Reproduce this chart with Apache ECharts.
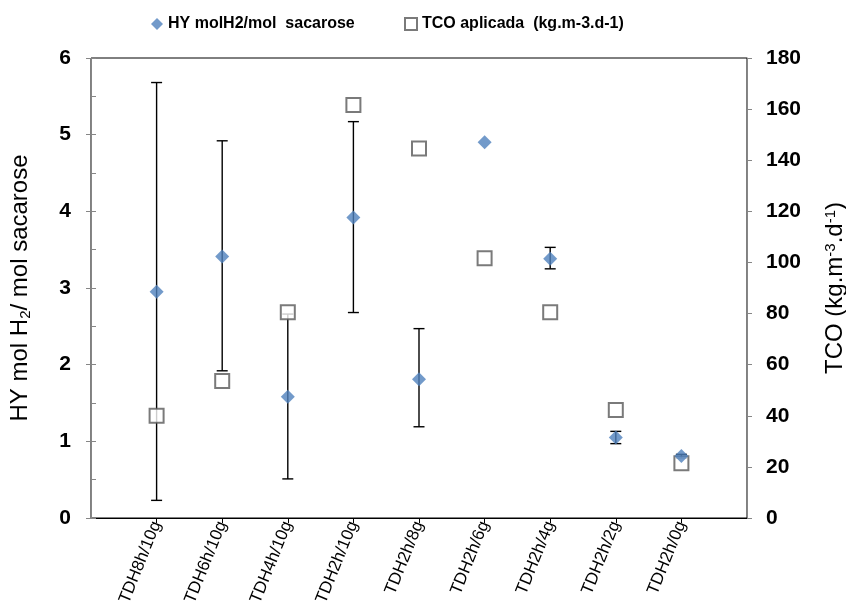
<!DOCTYPE html>
<html><head><meta charset="utf-8">
<script src="https://cdn.jsdelivr.net/npm/echarts@6/dist/echarts.min.js"></script>
<style>html,body{margin:0;padding:0;background:#fff}#c{width:846px;height:614px}</style>
</head><body><div id="c"></div>
<script>
const categories = ['TDH8h/10g','TDH6h/10g','TDH4h/10g','TDH2h/10g','TDH2h/8g','TDH2h/6g','TDH2h/4g','TDH2h/2g','TDH2h/0g'];
const hyValues = [2.95, 3.41, 1.58, 3.92, 1.81, 4.90, 3.38, 1.05, 0.81];
const hyErrLow = [0.23, 1.92, 0.51, 2.68, 1.19, null, 3.25, 0.97, 0.78];
const hyErrHigh = [5.68, 4.92, 2.66, 5.17, 2.47, null, 3.53, 1.13, 0.83];
const tcoValues = [40, 53.6, 80.5, 161.6, 144.6, 101.6, 80.5, 42.3, 21.4];
const leftTicks = [0, 1, 2, 3, 4, 5, 6];
const rightTicks = [0, 20, 40, 60, 80, 100, 120, 140, 160, 180];

const hyName = 'HY molH2/mol  sacarose';
const tcoName = 'TCO aplicada  (kg.m-3.d-1)';
const FONT = 'Liberation Sans, Arial, sans-serif';
const xPos = categories.map((c, i) => i + 1);

const chart = echarts.init(document.getElementById('c'), null, {renderer: 'canvas'});
chart.setOption({
  animation: false,
  backgroundColor: '#fff',
  textStyle: {fontFamily: FONT},
  grid: {left: 91, right: 99, top: 58, bottom: 96, containLabel: false, outerBoundsMode: 'none',
         show: true, borderColor: '#000', borderWidth: 1, backgroundColor: 'transparent'},
  legend: [
    {data: [hyName], left: 146, top: 11, itemWidth: 12, itemHeight: 12, itemGap: 4,
     textStyle: {fontFamily: FONT, fontWeight: 'bold', fontSize: 16, color: '#000'}},
    {data: [tcoName], left: 399, top: 11, itemWidth: 12, itemHeight: 12, itemGap: 4,
     textStyle: {fontFamily: FONT, fontWeight: 'bold', fontSize: 16, color: '#000'}}
  ],
  xAxis: {
    type: 'value', min: 0, max: 10, interval: 1,
    splitLine: {show: false},
    axisLine: {lineStyle: {color: '#000', width: 1}},
    axisTick: {customValues: xPos, length: 5, lineStyle: {color: '#000'}},
    axisLabel: {customValues: xPos, rotate: 68, fontSize: 17, color: '#000', margin: 4, fontFamily: FONT,
      formatter: v => categories[Math.round(v) - 1] || ''}
  },
  yAxis: [
    {type: 'value', min: 0, max: 6, interval: 1, position: 'left',
     name: 'HY mol H{sub|2}/ mol sacarose', nameLocation: 'middle', nameGap: 58, nameRotate: 90,
     nameTextStyle: {fontFamily: FONT, fontSize: 24, color: '#000',
       rich: {sub: {fontSize: 15, verticalAlign: 'bottom', padding: [10, 0, 0, 0], fontFamily: FONT}}},
     splitLine: {show: false},
     axisLine: {show: true, lineStyle: {color: '#868686'}},
     axisTick: {show: true, length: 5, lineStyle: {color: '#868686'}},
     axisLabel: {fontSize: 21, fontWeight: 'bold', color: '#000', margin: 20, fontFamily: FONT}},
    {type: 'value', min: 0, max: 180, interval: 20, position: 'right',
     name: 'TCO (kg.m{sup|-3}.d{sup|-1})', nameLocation: 'middle', nameGap: 76, nameRotate: 90,
     nameTextStyle: {fontFamily: FONT, fontSize: 24, color: '#000',
       rich: {sup: {fontSize: 15, verticalAlign: 'top', padding: [0, 0, 10, 0], fontFamily: FONT}}},
     splitLine: {show: false},
     axisLine: {show: true, lineStyle: {color: '#868686'}},
     axisTick: {show: true, length: 5, lineStyle: {color: '#868686'}},
     axisLabel: {fontSize: 21, fontWeight: 'bold', color: '#000', margin: 19, fontFamily: FONT}},
    {type: 'value', min: 0, max: 6, interval: 0.5, position: 'left',
     splitLine: {show: false}, axisLine: {show: false},
     axisTick: {show: true, inside: true, length: 5, lineStyle: {color: '#868686'}},
     axisLabel: {show: false}}
  ],
  series: [
    {type: 'custom', name: 'errbar', yAxisIndex: 0, z: 2, silent: true,
     data: xPos.map((x, i) => [x, hyErrLow[i], hyErrHigh[i]]).filter(d => d[1] != null),
     renderItem: (params, api) => {
       const lo = api.coord([api.value(0), api.value(1)]);
       const hi = api.coord([api.value(0), api.value(2)]);
       const w = 5.5;
       const st = {stroke: '#000', lineWidth: 1.4};
       return {type: 'group', children: [
         {type: 'line', shape: {x1: hi[0], y1: hi[1], x2: lo[0], y2: lo[1]}, style: st},
         {type: 'line', shape: {x1: hi[0] - w, y1: hi[1], x2: hi[0] + w, y2: hi[1]}, style: st},
         {type: 'line', shape: {x1: lo[0] - w, y1: lo[1], x2: lo[0] + w, y2: lo[1]}, style: st}
       ]};
     }},
    {type: 'scatter', name: tcoName, yAxisIndex: 1, z: 3,
     symbol: 'rect', symbolSize: 14,
     itemStyle: {color: '#fff', borderColor: '#595959', borderWidth: 2},
     data: xPos.map((x, i) => [x, tcoValues[i]])},
    {type: 'scatter', name: hyName, yAxisIndex: 0, z: 4,
     symbol: 'diamond', symbolSize: 14,
     itemStyle: {color: '#4f81bd'},
     data: xPos.map((x, i) => [x, hyValues[i]])}
  ]
});
</script></body></html>
